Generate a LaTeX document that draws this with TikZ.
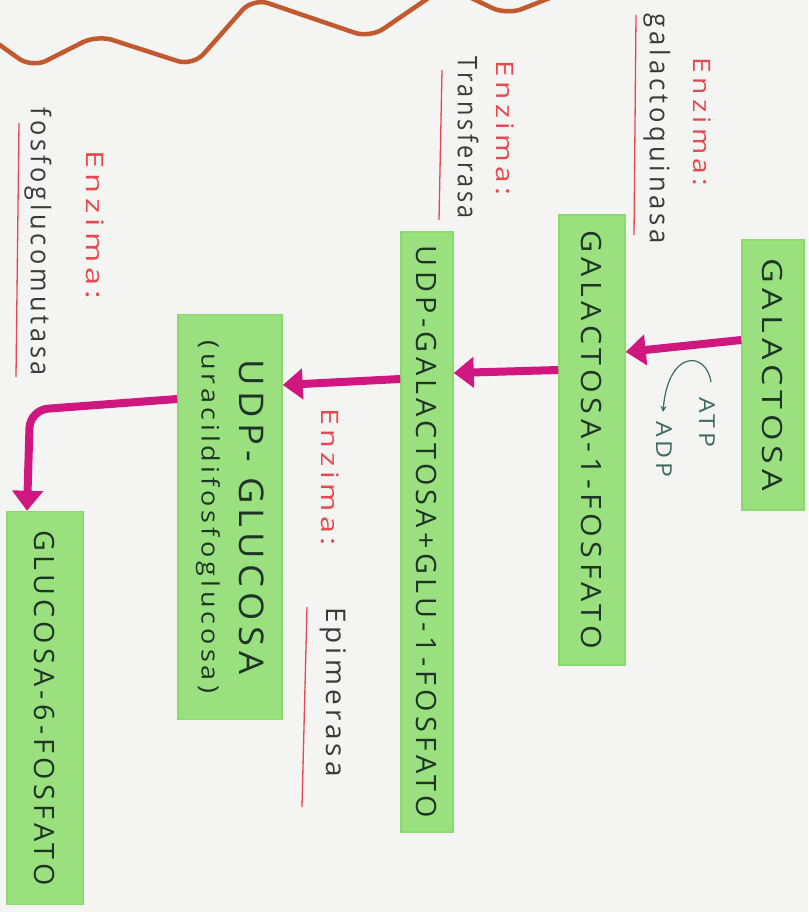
\documentclass[tikz,border=0pt]{standalone}
\usepackage{fontspec}
\usepackage{graphicx}
\setmainfont{Open Sans}
\newfontfamily\boxfont[LetterSpace=15]{Open Sans}
\newfontfamily\labfont[LetterSpace=15]{Open Sans}
\newcommand\stretchto[2]{\resizebox{#1}{\height}{#2}}
\usetikzlibrary{arrows.meta}
\definecolor{mk}{HTML}{9BE07F}
\definecolor{mkedge}{HTML}{8BD96E}
\definecolor{ink}{HTML}{1E3526}
\definecolor{mag}{HTML}{D0167F}
\definecolor{enz}{HTML}{E5484D}
\definecolor{grayink}{HTML}{3A3A3A}
\definecolor{tealink}{HTML}{3E6B63}
\definecolor{wave}{HTML}{C25A30}
\definecolor{paper}{HTML}{F4F4F2}
\begin{document}
\begin{tikzpicture}[x=1pt,y=-1pt,
  box/.style={rotate=-90, fill=mk, draw=mkedge, line width=1.5pt, inner sep=0pt,
    align=center, text=ink, font=\boxfont\fontsize{28}{34}\selectfont},
  flow/.style={draw=mag, line width=8pt, -{Triangle[width=30pt,length=20pt]}},
  enzlab/.style={rotate=-90, text=enz, font=\labfont\fontsize{24}{28}\selectfont, inner sep=0pt},
  enzname/.style={rotate=-90, text=grayink, font=\labfont\fontsize{27}{30}\selectfont, inner sep=0pt},
  uline/.style={draw=enz, line width=1.3pt},
  smalllab/.style={rotate=-90, text=tealink, font=\labfont\fontsize{22}{24}\selectfont, inner sep=0pt}]
\fill[paper] (0,0) rectangle (808,912);
\useasboundingbox (0,0) rectangle (808,912);
% wavy line
\draw[wave, line width=4.5pt, rounded corners=16pt] (-10,38) -- (32,68) -- (97,35) -- (193,66) -- (253,-2) -- (370,38) -- (446,-14) -- (507,15) -- (575,-12);
% boxes
\node[box, minimum width=270pt, minimum height=62pt] (gal) at (773,375) {\stretchto{232pt}{GALACTOSA}};
\node[box, minimum width=450pt, minimum height=66pt] (g1p) at (592,440) {\stretchto{418pt}{GALACTOSA-1-FOSFATO}};
\node[box, minimum width=600pt, minimum height=52pt] (udpgal) at (427,532) {\stretchto{572pt}{UDP-GALACTOSA+GLU-1-FOSFATO}};
\node[box, minimum width=405pt, minimum height=104pt] (udpglc) at (230,517) {{\fontsize{34}{38}\selectfont\stretchto{315pt}{UDP- GLUCOSA}}\\[4pt]{\fontsize{24}{26}\selectfont\stretchto{352pt}{(uracildifosfoglucosa)}}};
\node[box, minimum width=393pt, minimum height=76pt] (g6p) at (45,708) {\stretchto{355pt}{GLUCOSA-6-FOSFATO}};
% arrows
\draw[flow] (gal.south |- 0,340) -- (g1p.north |- 0,352);
\draw[flow] (g1p.south |- 0,370) -- (udpgal.north |- 0,373);
\draw[flow] (udpgal.south |- 0,379) -- (udpglc.north |- 0,385);
\draw[flow, rounded corners=18pt] (udpglc.south |- 0,399) -- (30,410) -- (g6p.west -| 27,0);
% ATP / ADP
\node[smalllab] (atp) at (707,422) {\stretchto{50pt}{ATP}};
\node[smalllab] (adp) at (664,449) {\stretchto{56pt}{ADP}};
\coordinate (c1) at (711,382);
\coordinate (c2) at (663,412);
\draw[tealink, line width=1.2pt, -{Stealth[length=6pt,width=6pt]}] (c1) .. controls (706,350) and (668,350) .. (c2);
% enzymes
\node[enzlab] (e1) at (702,122) {\stretchto{128pt}{Enzima:}};
\node[enzname] (n1) at (657,129) {\stretchto{230pt}{galactoquinasa}};
\draw[uline] (636,15) -- (634,235);
\node[enzlab] (e2) at (505,128) {\stretchto{135pt}{Enzima:}};
\node[enzname] (n2) at (468,138) {\stretchto{162pt}{Transferasa}};
\draw[uline] (442,70) -- (439,220);
\node[enzlab] (e3) at (330,477) {\stretchto{138pt}{Enzima:}};
\node[enzname] (n3) at (333,692) {\stretchto{170pt}{Epimerasa}};
\draw[uline] (307,607) -- (302,807);
\node[enzlab] (e4) at (95,225) {\stretchto{148pt}{Enzima:}};
\node[enzname] (n4) at (38,242) {\stretchto{268pt}{fosfoglucomutasa}};
\draw[uline] (19,123) -- (16,377);
\end{tikzpicture}
\end{document}
